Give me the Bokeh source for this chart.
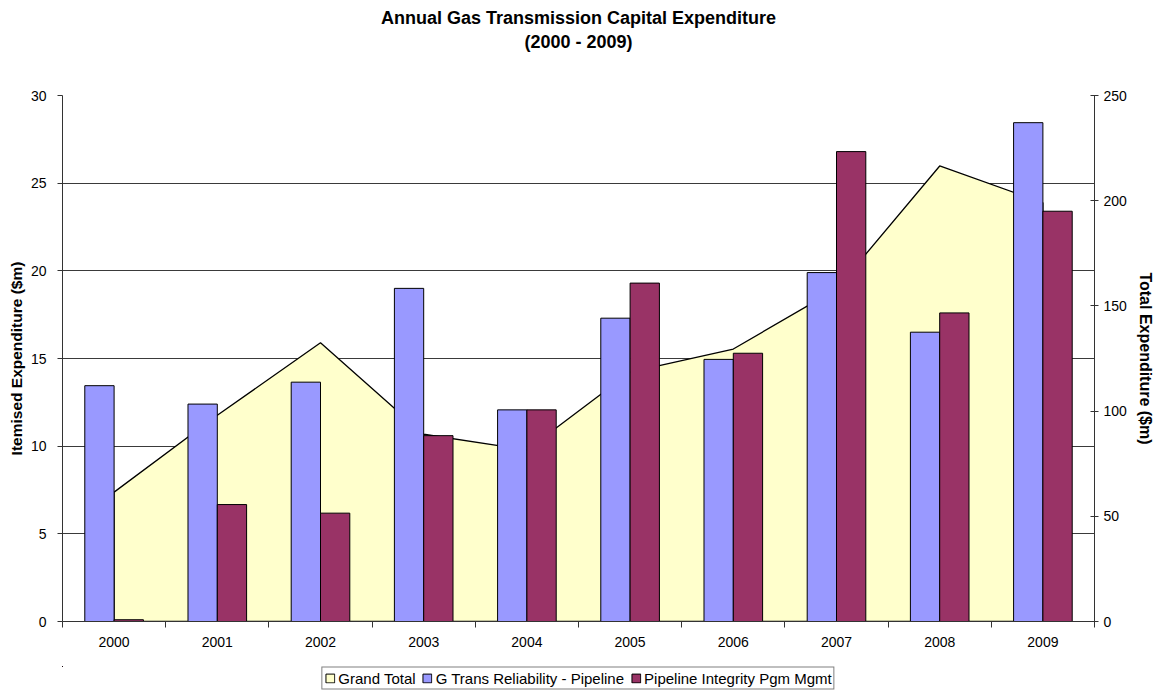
from bokeh.plotting import figure
from bokeh.layouts import column
from bokeh.models import (Range1d, LinearAxis, FixedTicker, Legend, LegendItem,
                          Title, ColumnDataSource)
from bokeh.transform import dodge
from bokeh.embed import file_html
from bokeh.resources import INLINE

# ---- data ----
years = [2000, 2001, 2002, 2003, 2004, 2005, 2006, 2007, 2008, 2009]
grand_total = [61.5, 98.0, 132.5, 89.0, 81.5, 118.5, 129.5, 158.0, 216.5, 199.0]
reliability = [13.45, 12.4, 13.65, 19.0, 12.07, 17.3, 14.95, 19.9, 16.5, 28.45]
integrity = [0.1, 6.67, 6.18, 10.6, 12.07, 19.3, 15.3, 26.8, 17.6, 23.4]
left_ticks = [0, 5, 10, 15, 20, 25, 30]
right_ticks = [0, 50, 100, 150, 200, 250]
series_names = ["Grand Total", "G Trans Reliability - Pipeline",
                "Pipeline Integrity Pgm Mgmt"]
title_main = "Annual Gas Transmission Capital Expenditure"
title_sub = "(2000 - 2009)"

FONT = "Liberation Sans"
W = 1156
H_MAIN, H_LEG = 666, 24
AREA_FILL, REL_FILL, INT_FILL = "#FFFFCC", "#9999FF", "#993366"

p = figure(width=W, height=H_MAIN, output_backend="svg", toolbar_location=None,
           x_range=Range1d(years[0] - 0.5, years[-1] + 0.5),
           y_range=Range1d(0, 30),
           min_border_left=62, min_border_right=62, min_border_top=95,
           min_border_bottom=45, title=None)
p.extra_y_ranges = {"total": Range1d(0, 250)}
p.outline_line_color = None
p.background_fill_color = "white"
p.border_fill_color = "white"

xa = p.below[0]
ya = p.left[0]

# sub-title carried by an otherwise invisible top axis
top_ax = LinearAxis(ticker=FixedTicker(ticks=[]), axis_line_color=None,
                    major_tick_line_color=None, minor_tick_line_color=None,
                    major_tick_out=0, major_tick_in=0, minor_tick_out=0,
                    minor_tick_in=0, major_label_standoff=0,
                    axis_label=title_sub, axis_label_standoff=44,
                    axis_label_text_font=FONT, axis_label_text_font_size="18px",
                    axis_label_text_font_style="bold",
                    axis_label_text_color="black")
p.add_layout(top_ax, "above")
p.add_layout(Title(text=title_main, align="center", text_font=FONT,
                   text_font_size="18px", text_font_style="bold",
                   text_color="black", standoff=2), "above")

# area (Grand Total) on right axis
area_x = years + [years[-1], years[0]]
area_y = grand_total + [0, 0]
p.patch(area_x, area_y, fill_color=AREA_FILL, line_color="black",
        line_width=1.3, y_range_name="total")

src = ColumnDataSource(dict(year=years, rel=reliability, integ=integrity))
bw = 0.284
p.vbar(x=dodge("year", -bw / 2), top="rel", width=bw, source=src,
       fill_color=REL_FILL, line_color="black", line_width=1)
p.vbar(x=dodge("year", bw / 2), top="integ", width=bw, source=src,
       fill_color=INT_FILL, line_color="black", line_width=1)

# bottom axis
xa.ticker = FixedTicker(ticks=years,
                        minor_ticks=[y - 0.5 for y in years] + [years[-1] + 0.5])
xa.major_label_overrides = {y: str(y) for y in years}
xa.major_tick_out = 0
xa.major_tick_in = 0
xa.minor_tick_out = 6
xa.minor_tick_in = 0
xa.minor_tick_line_color = "#333333"
xa.axis_line_color = "#333333"
xa.major_label_text_font = FONT
xa.major_label_text_font_size = "14px"
xa.major_label_text_color = "black"
xa.major_label_standoff = 9

# left axis
ya.ticker = FixedTicker(ticks=left_ticks)
ya.major_tick_out = 5
ya.major_tick_in = 0
ya.minor_tick_line_color = None
ya.axis_line_color = "#333333"
ya.major_tick_line_color = "#333333"
ya.major_label_text_font = FONT
ya.major_label_text_font_size = "14px"
ya.major_label_text_color = "black"
ya.major_label_standoff = 11
ya.axis_label = "Itemised Expenditure ($m)"
ya.axis_label_text_font = FONT
ya.axis_label_text_font_size = "15.5px"
ya.axis_label_text_font_style = "bold"
ya.axis_label_text_color = "black"
ya.axis_label_standoff = 3

# right axis
ra = LinearAxis(y_range_name="total", ticker=FixedTicker(ticks=right_ticks))
ra.major_tick_out = 4
ra.major_tick_in = 4
ra.minor_tick_line_color = None
ra.axis_line_color = "#333333"
ra.major_tick_line_color = "#333333"
ra.major_label_text_font = FONT
ra.major_label_text_font_size = "14px"
ra.major_label_text_color = "black"
ra.major_label_standoff = 5
ra.axis_label = "Total Expenditure ($m)"
ra.axis_label_text_font = FONT
ra.axis_label_text_font_size = "16px"
ra.axis_label_text_font_style = "bold"
ra.axis_label_text_color = "black"
ra.axis_label_standoff = 7
p.add_layout(ra, "right")

p.xgrid.grid_line_color = None
p.ygrid.ticker = FixedTicker(ticks=left_ticks)
p.ygrid.grid_line_color = "#3a3a3a"
p.ygrid.grid_line_width = 1

# ---- legend strip (separate small figure below the chart) ----
# its renderers hold the same data but lie just outside the strip's view
lg = figure(width=W, height=H_LEG, output_backend="svg", toolbar_location=None,
            x_range=Range1d(years[-1] + 1, years[-1] + 2),
            y_range=Range1d(-2, -1),
            x_axis_type=None, y_axis_type=None, min_border=0, title=None)
lg.outline_line_color = None
lg.grid.visible = False
lg.background_fill_color = "white"
lg.border_fill_color = "white"
lg_area = lg.patch(area_x, area_y, fill_color=AREA_FILL, line_color="black",
                   line_width=1)
lg_rel = lg.vbar(x="year", top="rel", width=bw, source=src,
                 fill_color=REL_FILL, line_color="black", line_width=1)
lg_int = lg.vbar(x="year", top="integ", width=bw, source=src,
                 fill_color=INT_FILL, line_color="black", line_width=1)

legend = Legend(items=[
    LegendItem(label=series_names[0], renderers=[lg_area]),
    LegendItem(label=series_names[1], renderers=[lg_rel]),
    LegendItem(label=series_names[2], renderers=[lg_int]),
], orientation="horizontal", location="center")
legend.label_text_font = FONT
legend.label_text_font_size = "15px"
legend.label_text_color = "black"
legend.glyph_width = 11
legend.glyph_height = 11
legend.label_height = 14
legend.label_standoff = 3
legend.spacing = 6
legend.padding = 2
legend.margin = 0
legend.border_line_color = "black"
legend.border_line_width = 1
legend.background_fill_color = "white"
legend.background_fill_alpha = 1
lg.add_layout(legend, "center")

layout = column(p, lg, spacing=0)
open("out.html", "w").write(file_html(layout, INLINE))
